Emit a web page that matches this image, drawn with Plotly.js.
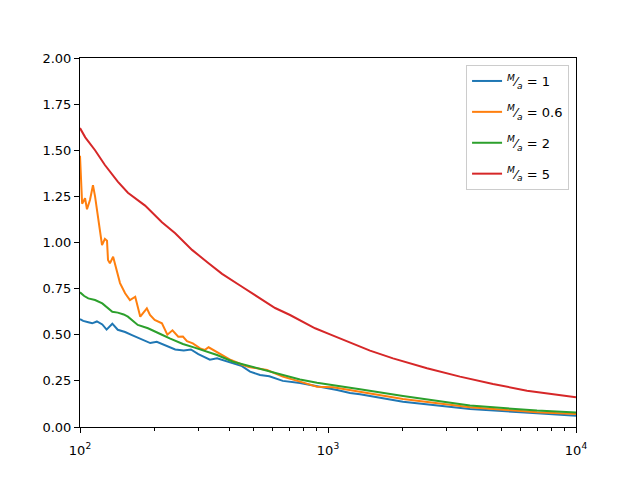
<!DOCTYPE html>
<html>
<head>
<meta charset="utf-8">
<script src="https://cdn.plot.ly/plotly-3.0.1.min.js"></script>
<style>
  html, body { margin: 0; padding: 0; background: #fff; }
  #chart { width: 640px; height: 480px; }
</style>
</head>
<body>
<div id="chart"></div>
<script>
// Values
const labels = ['1', '0.6', '2', '5'];
const colors = ['#1f77b4', '#ff7f0e', '#2ca02c', '#d62728'];

// M/a = 1
const xBlue = [100, 103, 108, 112, 117, 123, 128, 135, 142, 152, 162, 178, 192, 204, 214, 224, 242, 262, 280, 300,
  334, 357, 414, 450, 485, 532, 580, 623, 657, 771, 903, 1088, 1227, 1346, 2006, 3406, 3737, 6961, 10000];
const yBlue = [0.585, 0.575, 0.568, 0.562, 0.572, 0.556, 0.528, 0.560, 0.527, 0.515, 0.498, 0.472, 0.455, 0.462, 0.450,
  0.437, 0.420, 0.415, 0.420, 0.395, 0.365, 0.372, 0.345, 0.330, 0.300, 0.282, 0.275, 0.262, 0.250, 0.238, 0.222,
  0.200, 0.184, 0.177, 0.137, 0.101, 0.098, 0.074, 0.061];

// M/a = 0.6
const xOrange = [100, 102, 104.8, 106.7, 109.7, 112.8, 115, 117, 120.4, 122.7, 126, 128.5, 129.7, 132, 136, 141, 145,
  152, 159, 167, 175, 186, 191.5, 200, 214, 225, 236, 249, 260, 270, 285, 305, 318, 330, 364, 406, 454, 480, 568,
  657, 771, 903, 1048, 1227, 1346, 2006, 3406, 3737, 6961, 10000];
const yOrange = [1.47, 1.21, 1.24, 1.18, 1.23, 1.31, 1.25, 1.18, 1.05, 0.986, 1.02, 1.01, 0.905, 0.887, 0.923, 0.85, 0.78,
  0.725, 0.688, 0.706, 0.598, 0.643, 0.607, 0.58, 0.562, 0.50, 0.524, 0.489, 0.49, 0.465, 0.453, 0.426, 0.417, 0.432,
  0.40, 0.363, 0.336, 0.325, 0.309, 0.273, 0.246, 0.218, 0.215, 0.20, 0.191, 0.152, 0.114, 0.107, 0.080, 0.070];

// M/a = 2
const xGreen = [100, 104, 108, 115, 123, 130, 135, 142, 150, 156, 165, 171, 188, 200, 214, 230, 260, 290, 328, 357,
  414, 485, 568, 657, 771, 903, 1088, 1346, 2006, 3406, 3737, 6961, 10000];
const yGreen = [0.73, 0.71, 0.697, 0.688, 0.67, 0.645, 0.625, 0.62, 0.61, 0.598, 0.57, 0.553, 0.535, 0.52, 0.50, 0.48,
  0.45, 0.43, 0.405, 0.39, 0.354, 0.33, 0.305, 0.28, 0.258, 0.24, 0.222, 0.204, 0.168, 0.125, 0.116, 0.089, 0.078];

// M/a = 5
const xRed = [100, 105, 115, 126, 142, 156, 183, 214, 242, 283, 328, 374, 450, 542, 612, 703, 887, 1019, 1346, 1477,
  1829, 2507, 3406, 4626, 6343, 10000];
const yRed = [1.62, 1.57, 1.50, 1.42, 1.33, 1.27, 1.20, 1.11, 1.05, 0.96, 0.89, 0.83, 0.76, 0.69, 0.645, 0.607, 0.535,
  0.502, 0.439, 0.414, 0.372, 0.318, 0.273, 0.233, 0.197, 0.161];

const xTicks = [100, 1000, 10000];
const xTickText = ['10<sup>2</sup>', '10<sup>3</sup>', '10<sup>4</sup>'];
const xMinor = [200, 300, 400, 500, 600, 700, 800, 900, 2000, 3000, 4000, 5000, 6000, 7000, 8000, 9000];
const yTicks = [0, 0.25, 0.5, 0.75, 1, 1.25, 1.5, 1.75, 2];

const series = [[xBlue, yBlue], [xOrange, yOrange], [xGreen, yGreen], [xRed, yRed]];

const traces = series.map(([x, y], i) => ({
  x: x,
  y: y,
  type: 'scatter',
  mode: 'lines',
  line: { color: colors[i], width: 2 },
  // fraction M over a, approximated with super/subscript
  name: '<sup><i>M</i></sup>⁄<sub><i>a</i></sub> = ' + labels[i],
  legendgroup: 'g' + i,
}));

const axisCommon = {
  showline: true,
  linecolor: '#000',
  linewidth: 1,
  mirror: true,
  showgrid: false,
  zeroline: false,
  ticks: 'outside',
  ticklen: 5,
  tickwidth: 1,
  tickcolor: '#000',
  tickfont: { family: 'DejaVu Sans', size: 13, color: '#000' },
};

const layout = {
  width: 640,
  height: 480,
  margin: { l: 80, r: 64, t: 58, b: 53, pad: 0 },
  paper_bgcolor: '#fff',
  plot_bgcolor: '#fff',
  font: { family: 'DejaVu Sans', size: 13, color: '#000' },
  showlegend: true,
  xaxis: {
    ...axisCommon,
    type: 'log',
    range: [2, 4],
    tickvals: xTicks,
    ticktext: xTickText,
    ticklabelstandoff: 6,
    minor: { tickvals: xMinor, ticks: 'outside', ticklen: 3, tickcolor: '#000', tickwidth: 1 },
  },
  yaxis: {
    ...axisCommon,
    range: [0, 2],
    tickvals: yTicks,
    tickformat: '.2f',
  },
  legend: {
    x: 0.986,
    y: 0.981,
    xanchor: 'right',
    yanchor: 'top',
    bgcolor: 'rgba(255,255,255,0.8)',
    bordercolor: '#cccccc',
    borderwidth: 1,
    tracegroupgap: 11,
    font: { family: 'DejaVu Sans', size: 13, color: '#000' },
  },
};

Plotly.newPlot('chart', traces, layout, { displayModeBar: false, staticPlot: true });
</script>
</body>
</html>
